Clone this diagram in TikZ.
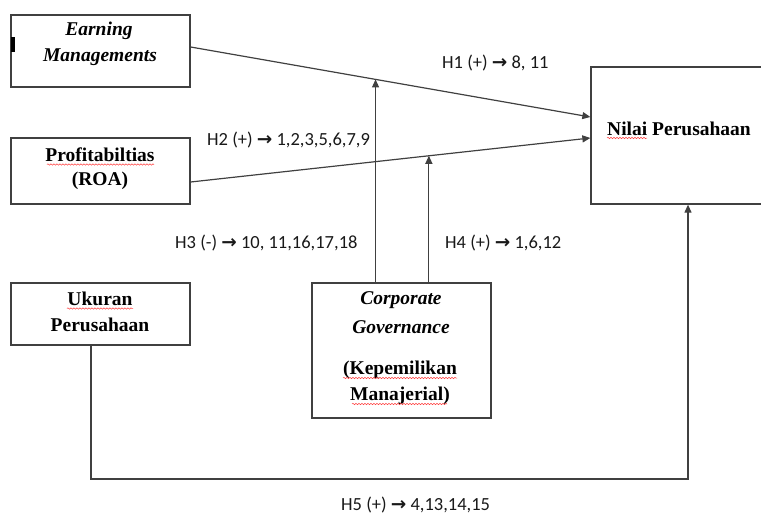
\documentclass[tikz,border=0pt]{standalone}
\usepackage{fontspec}
\setmainfont{Liberation Serif}
\newfontfamily\labfont{Carlito}
\newfontfamily\symfont{DejaVu Sans}
\usetikzlibrary{arrows.meta,calc,decorations.pathmorphing}
\tikzset{
  boxnode/.style={draw=black!75, line width=1.3pt, inner sep=0pt, fill=white},
  btext/.style={font=\fontsize{19.5}{21}\selectfont\bfseries, inner sep=0pt},
  itext/.style={font=\fontsize{19.5}{21}\selectfont\bfseries\itshape, inner sep=0pt},
  hlabel/.style={font=\fontsize{18.5}{20}\labfont, inner sep=0pt, anchor=west, text=black!90},
  conn/.style={draw=black!75, line width=1.2pt},
  arr/.style={conn, -{Triangle[length=8pt,width=7pt]}},
  spell/.style={draw=red!75, line width=0.5pt, decorate, decoration={snake, amplitude=0.7pt, segment length=3pt}}
}
\newcommand{\rarr}{{\symfont\bfseries\char"2192}}
\begin{document}
\begin{tikzpicture}[x=1pt,y=-1pt]
\useasboundingbox (0,0) rectangle (761,514);
% boxes
\node[boxnode, minimum width=179pt, minimum height=72pt] (em) at (100.5,51) {};
\node[boxnode, minimum width=179pt, minimum height=66pt] (roa) at (100.5,171) {};
\node[boxnode, minimum width=179pt, minimum height=62pt] (uk) at (100.5,314) {};
\node[boxnode, minimum width=179pt, minimum height=135pt] (cg) at (401.5,350.5) {};
\node[boxnode, minimum width=173pt, minimum height=137pt] (nv) at (677.5,135.5) {};
% texts
\node[itext] (em1) at (99,31) {Earning};
\node[itext] (em2) at (100,57) {Managements};
\node[btext] (roa1) at (100,155) {Profitabiltias};
\node[btext] (roa2) at (100,181) {(ROA)};
\node[btext] (uk1) at (100,299) {Ukuran};
\node[btext] (uk2) at (100,325) {Perusahaan};
\node[itext] (cg1) at (401,300) {Corporate};
\node[itext] (cg2) at (401,327) {Governance};
\node[btext] (cg3) at (400,370) {(Kepemilikan};
\node[btext] (cg4) at (400,396) {Manajerial)};
\node[btext] (nv1) at (679,129) {Nilai Perusahaan};
% small mark
\fill[black] (11,37) rectangle (14.5,52);
% spell-check underlines
\draw[spell] (47,164.5) -- (154,164.5);
\draw[spell] (67,308.5) -- (133,308.5);
\draw[spell] (607,138) -- (647,138);
\draw[spell] (343,378) -- (457,378);
\draw[spell] (352,404) -- (447,404);
% connectors
\coordinate (a1) at ([yshift=4pt]em.east);
\coordinate (b1) at ([yshift=18.5pt]nv.west);
\coordinate (a2) at ([yshift=-11pt]roa.east);
\coordinate (b2) at ([yshift=-2.5pt]nv.west);
\draw[arr] (a1) -- (b1);
\draw[arr] (a2) -- (b2);
\coordinate (p1) at ($(a1)!0.4626!(b1)$);
\coordinate (p2) at ($(a2)!0.596!(b2)$);
\draw[arr] (p1 |- cg.north) -- (p1);
\draw[arr] (p2 |- cg.north) -- (p2);
\coordinate (bl) at (91,479);
\coordinate (br) at (688,479);
\draw[arr] (bl |- uk.south) -- (bl) -- (br) -- (br |- nv.south);
% labels
\node[hlabel] (h1) at (442,63) {H1 (+) \rarr{} 8, 11};
\node[hlabel] (h2) at (207,140) {H2 (+) \rarr{} 1,2,3,5,6,7,9};
\node[hlabel] (h3) at (175,243) {H3 (-) \rarr{} 10, 11,16,17,18};
\node[hlabel] (h4) at (445,243) {H4 (+) \rarr{} 1,6,12};
\node[hlabel] (h5) at (341,505) {H5 (+) \rarr{} 4,13,14,15};
\end{tikzpicture}
\end{document}
